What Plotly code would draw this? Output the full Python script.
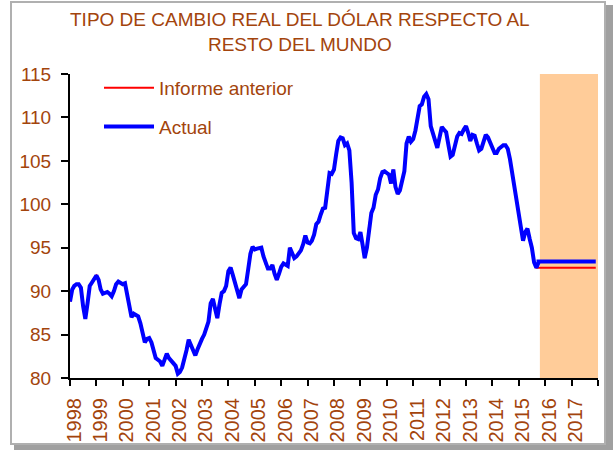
import plotly.graph_objects as go
import pandas as pd

# ---------------- data ----------------
hist_start = "1998-01-01"
actual_hist = [
    # 1998
    88.8, 90.2, 90.6, 90.8, 90.8, 90.4, 88.3, 86.8, 88.6, 90.6, 91.0, 91.5,
    # 1999
    91.8, 91.3, 90.2, 89.7, 89.8, 89.9, 89.7, 89.4, 90.0, 90.8, 91.1, 90.9,
    # 2000
    90.8, 90.9, 89.5, 88.3, 87.0, 87.4, 87.3, 87.1, 86.3, 85.4, 84.1, 84.5,
    # 2001
    84.6, 84.1, 83.4, 82.3, 82.1, 81.9, 81.4, 82.3, 82.8, 82.3, 82.0, 81.8,
    # 2002
    81.4, 80.5, 80.7, 81.2, 82.0, 83.2, 84.4, 83.7, 83.2, 82.6, 83.3, 84.0,
    # 2003
    84.5, 85.0, 85.6, 86.5, 88.6, 89.1, 88.0, 86.9, 88.5, 89.8, 90.0, 90.6,
    # 2004
    92.3, 92.7, 91.9, 90.9, 89.9, 89.2, 90.2, 90.6, 90.8, 92.5, 94.3, 95.1,
    # 2005
    94.8, 94.9, 94.9, 95.0, 94.0, 93.1, 92.6, 92.6, 93.0, 92.0, 91.3, 92.0,
    # 2006
    92.8, 93.2, 93.0, 92.9, 95.0, 94.2, 93.8, 94.0, 94.3, 94.7, 95.4, 96.4,
    # 2007
    95.6, 95.5, 95.8, 96.5, 97.7, 98.0, 98.8, 99.5, 99.6, 101.5, 103.6, 103.5,
    # 2008
    104.0, 105.8, 107.3, 107.7, 107.6, 106.8, 107.0, 106.2, 102.5, 96.7, 96.1, 96.0,
    # 2009
    96.8, 95.3, 93.8, 95.0, 97.5, 99.0, 99.6, 101.1, 101.7, 103.0, 103.7, 103.8,
    # 2010
    103.6, 103.4, 102.4, 104.0, 102.0, 101.2, 101.6, 102.6, 103.8, 107.0, 107.8, 107.2,
    # 2011
    107.5, 108.5, 109.9, 111.3, 111.5, 112.4, 112.7, 112.1, 109.0, 108.1, 107.5, 106.5,
    # 2012
    107.7, 108.9, 108.6, 108.3, 106.9, 105.5, 105.7, 106.6, 107.8, 108.2, 108.1, 108.6,
    # 2013
    109.0, 108.2, 107.3, 108.0, 107.9, 107.0, 106.2, 106.4, 107.2, 108.0, 107.7, 107.0,
    # 2014
    106.5, 105.9, 105.9, 106.4, 106.6, 106.8, 106.8, 106.4, 105.2, 103.6, 102.0, 100.6,
    # 2015 (Jan-Oct)
    99.0, 97.2, 95.8, 96.8, 97.2, 96.0, 95.0, 93.3, 92.7, 93.3,
]
hist_dates = list(pd.date_range(hist_start, periods=len(actual_hist), freq="MS"))

# forecast (flat) segments
forecast_dates = ["2015-10-01", "2017-12-01"]
actual_forecast = [93.4, 93.4]
previous_forecast = [92.7, 92.7]

actual_x = hist_dates + [pd.Timestamp(d) for d in forecast_dates]
actual_y = actual_hist + actual_forecast
prev_x = hist_dates[:-1] + [pd.Timestamp(d) for d in forecast_dates]
prev_y = actual_hist[:-1] + previous_forecast

shade_start = "2015-10-20"
shade_end = "2018-01-01"

x_range = ["1998-01-01", "2018-01-01"]
y_range = [80, 115]
year_ticks = [f"{y}-01-01" for y in range(1998, 2019)]
year_labels = [str(y) for y in range(1998, 2018)] + [""]

title_text = "TIPO DE CAMBIO REAL DEL DÓLAR RESPECTO AL<br>RESTO DEL MUNDO"
name_prev = "Informe anterior"
name_actual = "Actual"

# ---------------- style ----------------
BROWN = "#A3440C"
W, H = 616, 450
L, R, T, B = 70, 18, 74, 72

fig = go.Figure()

fig.add_trace(go.Scatter(
    x=prev_x, y=prev_y, mode="lines", name=name_prev,
    line=dict(color="#FF0000", width=2), legendgroup="a",
))
fig.add_trace(go.Scatter(
    x=actual_x, y=actual_y, mode="lines", name=name_actual,
    line=dict(color="#0000FF", width=4), legendgroup="b",
))

fig.add_vrect(x0=shade_start, x1=shade_end, fillcolor="#FFCC99", opacity=1,
              line_width=0, layer="below")

pw, ph = W - L - R, H - T - B
def px(xp):
    return (xp - L) / pw
def py(yp):
    return (H - B - yp) / ph

# outer chart frame with shadow
fig.add_shape(type="rect", xref="paper", yref="paper",
              x0=px(606), x1=px(613), y0=py(450), y1=py(5),
              fillcolor="#A0A0A0", line_width=0, layer="above")
fig.add_shape(type="rect", xref="paper", yref="paper",
              x0=px(14), x1=px(613), y0=py(450), y1=py(445),
              fillcolor="#A0A0A0", line_width=0, layer="above")
fig.add_shape(type="rect", xref="paper", yref="paper",
              x0=px(11), x1=px(605), y0=py(444), y1=py(2),
              fillcolor="rgba(0,0,0,0)", line=dict(color="#B0B0B0", width=2),
              layer="above")

fig.add_annotation(text=title_text, xref="paper", yref="paper",
                   x=px(300), y=py(7), xanchor="center", yanchor="top",
                   showarrow=False, align="center",
                   font=dict(family="Liberation Sans Narrow, Liberation Sans, Arial",
                             size=19, color=BROWN))

fig.update_layout(
    width=W, height=H,
    margin=dict(l=L, r=R, t=T, b=B, pad=0, autoexpand=False),
    paper_bgcolor="white", plot_bgcolor="rgba(0,0,0,0)",
    font=dict(family="Liberation Sans, Arial", color=BROWN),
    showlegend=True,
    legend=dict(x=px(99), y=py(69), xanchor="left", yanchor="top",
                bgcolor="rgba(0,0,0,0)", font=dict(size=19, color=BROWN),
                tracegroupgap=11, itemwidth=50),
    xaxis=dict(type="date", range=x_range, tickmode="array",
               tickvals=year_ticks, ticktext=year_labels,
               tickangle=-90, ticks="outside", ticklen=6, automargin=False,
               tickwidth=1.5, tickcolor="black", showline=True, linecolor="black",
               linewidth=2, showgrid=False, zeroline=False,
               tickfont=dict(size=20, color=BROWN), ticklabelshift=4,
               ticklabelstandoff=4),
    yaxis=dict(range=y_range, dtick=5, tick0=80, ticks="outside", ticklen=7,
               tickwidth=1.5, tickcolor="black", showline=True, linecolor="black",
               linewidth=2, showgrid=False, zeroline=False, automargin=False,
               tickfont=dict(size=19, color=BROWN), ticklabelstandoff=6),
)

fig.write_html("out.html", config={"displayModeBar": False},
               post_script="document.body.style.margin='0';")
